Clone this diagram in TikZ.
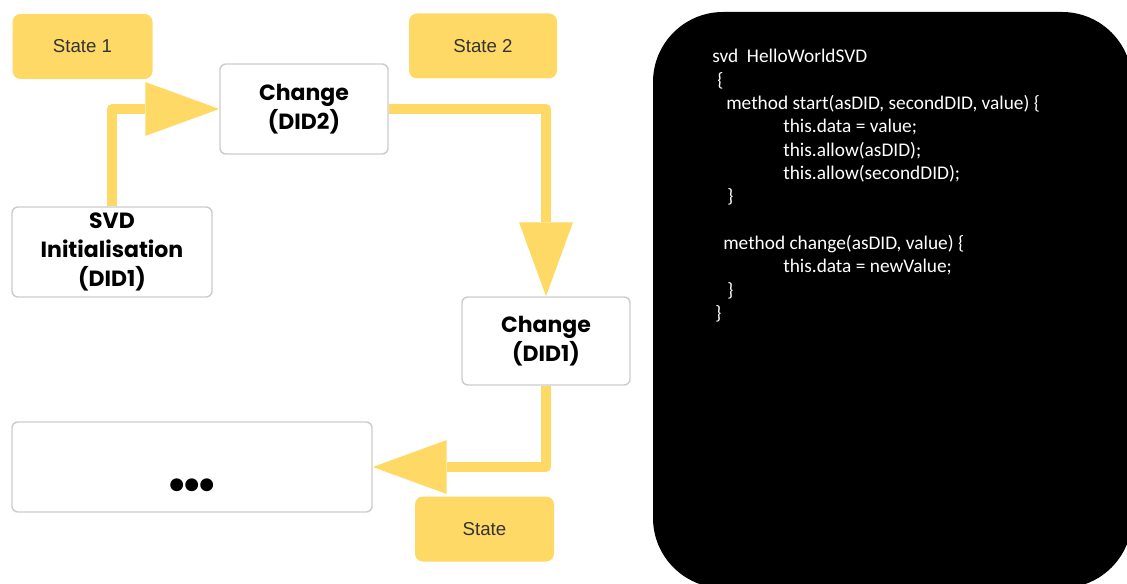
\documentclass[tikz,border=0pt]{standalone}
\usepackage{fontspec}
\setmainfont{Liberation Sans}
\newfontfamily\boxfont{Poppins}
\newfontfamily\codefont{Carlito}
\usetikzlibrary{arrows.meta}
\definecolor{stateyellow}{HTML}{FFD966}
\definecolor{boxgray}{HTML}{CCCCCC}
\tikzset{>=latex}

\begin{document}
\begin{tikzpicture}[x=0.75pt,y=-0.75pt,
		statebox/.style={fill=stateyellow, rounded corners=6pt, inner sep=0pt,
			minimum height=48.75pt, text=black!80,
			font=\fontsize{14}{16}\selectfont},
		didbox/.style={draw=boxgray, line width=1.1pt, fill=white,
			rounded corners=4.5pt, inner sep=0pt, align=center,
			minimum width=126pt, minimum height=67.5pt,
			font=\boxfont\bfseries\fontsize{16.5}{22}\selectfont},
		flow/.style={draw=stateyellow, line width=7.5pt, line join=round,
			-{Triangle[length=55.5pt,width=40.5pt,line width=0pt]}},
		codetext/.style={text=white, inner sep=0pt, align=left,
			font=\codefont\fontsize{14.5}{17.5}\selectfont},
		]
		\useasboundingbox (0,0) rectangle (1127,584);
		\begin{scope}
			\clip (0,0) rectangle (1127,584);
			\fill[rounded corners=52.5pt] (653,12) rectangle (1132,588);
		\end{scope}
		% states
		\node[statebox, minimum width=105pt] (s1) at (82.5,46.5) {State 1};
		\node[statebox, minimum width=111pt] (s2) at (483,46) {State 2};
		\node[statebox, minimum width=104.25pt] (s3) at (484.5,529) {State};
		% steps
		\node[didbox, minimum width=150pt] (init) at (112,252) {SVD\\Initialisation\\(DID1)};
		\node[didbox] (chg2) at (304,109) {Change\\(DID2)};
		\node[didbox, minimum height=66pt] (chg1) at (546,341) {Change\\(DID1)};
		\node[didbox, minimum width=270pt] (more) at (192,467)
			{\raisebox{-24pt}[0pt][0pt]{\fontsize{32}{32}\selectfont •\kern-5pt•\kern-5pt•}};
		\draw[flow] (init.north) |- (chg2.west);
		\draw[flow] (chg2.east) -| (chg1.north);
		\draw[flow] (chg1.south) |- (more.east);
		% code
		\node[codetext, anchor=north west] (code) at (712,49) {%
			svd\ \ HelloWorldSVD\\
			\hspace*{3.75pt}\{\\
			\hspace*{10.5pt}method start(asDID, secondDID, value) \{\\
			\hspace*{53.25pt}this.data = value;\\
			\hspace*{53.25pt}this.allow(asDID);\\
			\hspace*{53.25pt}this.allow(secondDID);\\
			\hspace*{11.25pt}\}\\
			\mbox{}\\
			\hspace*{8.25pt}method change(asDID, value) \{\\
			\hspace*{53.25pt}this.data = newValue;\\
			\hspace*{11.25pt}\}\\
			\hspace*{2.25pt}\}};
	\end{tikzpicture}
\end{document}
